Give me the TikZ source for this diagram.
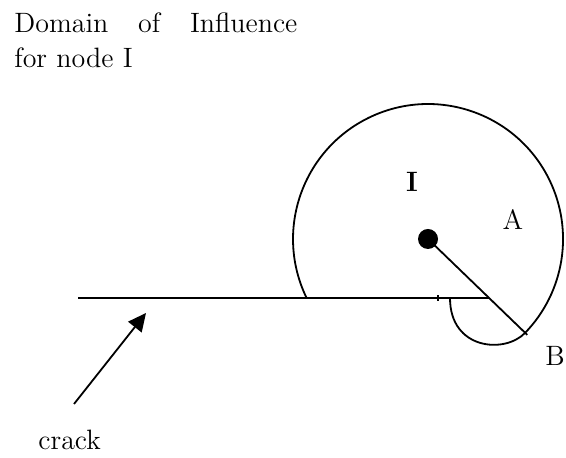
\documentclass[tikz,border=0pt]{standalone}
\usepackage{tikz}
\usetikzlibrary{arrows.meta, positioning, calc}

\begin{document}
\begin{tikzpicture}[x=0.5pt, y=0.5pt, >=Stealth,
    lbl/.style={font=\fontsize{14}{17.5}\selectfont, inner sep=0pt},
    edge/.style={line width=0.9pt}]
  \useasboundingbox (0,0) rectangle (566,458);
  % Title
  \node[lbl, anchor=base west, text width=141.5pt, align=left] (title) at (14,425)
    {Domain\hfill of\hfill Influence\\for node I};
  % Node I with its labels
  \node[circle, fill, inner sep=0pt, minimum size=10pt] (I) at (428,219) {};
  \node[lbl, font=\fontsize{14}{17.5}\selectfont\bfseries, anchor=base] (Ilbl) at (412,266) {I};
  \node[lbl, anchor=base] (A) at (513,228) {A};
  \node[lbl, anchor=base] (B) at (555,92) {B};
  \node[lbl, anchor=base west] (crack) at (38,8) {crack};
  % Crack line
  \coordinate (crackL) at (78,160);
  \coordinate (crackR) at (489,160);
  \draw[edge] (crackL) -- (crackR);
  \draw[edge] (438,157) -- (438,163);
  % Domain boundary and radius to B
  \coordinate (Bpt) at ($(I)+(-44:138)$);
  \draw[edge] (306.6,160) arc[start angle=205.9, end angle=-44, radius=67.5pt]
    .. controls (505,104) and (450,108) .. (450,160);
  \draw[edge] (I.center) -- (Bpt);
  % Arrow to the crack
  \coordinate (tail) at (74,54);
  \coordinate (tip) at (146,145);
  \draw[edge, -{Triangle[length=9pt, width=8.5pt]}] (tail) -- (tip);
\end{tikzpicture}
\end{document}
